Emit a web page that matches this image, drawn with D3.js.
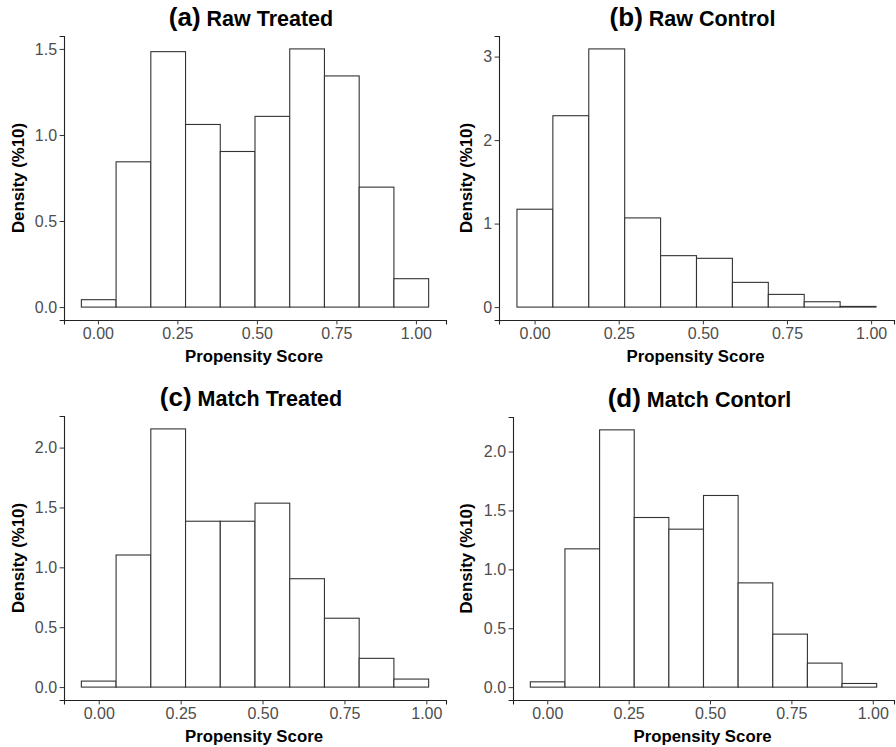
<!DOCTYPE html>
<html>
<head>
<meta charset="utf-8">
<script src="https://cdn.jsdelivr.net/npm/d3@7"></script>
<style>
  body { margin: 0; background: #fff; }
  svg { display: block; font-family: "Liberation Sans", Arial, sans-serif; }
  .tick text { fill: #4d4d4d; font-size: 16px; }
  .tick line { stroke: #333; }
  .domain { stroke: #222; }
</style>
</head>
<body>
<div id="chart"></div>
<script>
// panel labels
var tags = ["(a)", "(b)", "(c)", "(d)"];
var names = ["Raw Treated", "Raw Control", "Match Treated", "Match Contorl"];

// density per bin (10 bins)
var rawTreated   = [0.043, 0.844, 1.484, 1.061, 0.904, 1.108, 1.500, 1.343, 0.697, 0.165];
var rawControl   = [1.172, 2.292, 3.092, 1.068, 0.616, 0.584, 0.296, 0.152, 0.064, 0.008];
var matchTreated = [0.050, 1.103, 2.156, 1.385, 1.385, 1.536, 0.905, 0.575, 0.240, 0.067];
var matchControl = [0.045, 1.174, 2.184, 1.440, 1.341, 1.627, 0.885, 0.450, 0.204, 0.031];

// left edge of first bin and bin width for each panel
var binStarts = [-0.052, -0.0524, -0.053, -0.052];
var binWidths = [0.1092, 0.1067, 0.106, 0.1064];

var xTicks = [0, 0.25, 0.5, 0.75, 1];
var yTicksA = [0, 0.5, 1, 1.5];
var yTicksB = [0, 1, 2, 3];
var yTicksCD = [0, 0.5, 1, 1.5, 2];

var series = [rawTreated, rawControl, matchTreated, matchControl];
var yTicks = [yTicksA, yTicksB, yTicksCD, yTicksCD];
var yFormats = [".1f", "d", ".1f", ".1f"];

// plot area of each panel (page pixels)
var boxes = [
    { ox: 0,   left: 64,  right: 446, top: 36,  bottom: 320 },
    { ox: 448, left: 499, right: 894, top: 36,  bottom: 320 },
    { ox: 0,   left: 64,  right: 446, top: 416, bottom: 700 },
    { ox: 448, left: 513, right: 894, top: 417, bottom: 700 }
];

var width = 896, height = 747;

var svg = d3.select("#chart").append("svg")
    .attr("width", width)
    .attr("height", height);

series.forEach(function(vals, i) {
    var b = boxes[i];
    var bins = vals.map(function(v, j) {
        return { x0: binStarts[i] + j * binWidths[i], x1: binStarts[i] + (j + 1) * binWidths[i], y: v };
    });

    // ggplot style 5% expansion
    var lo = bins[0].x0, hi = bins[bins.length - 1].x1;
    var pad = (hi - lo) * 0.05;
    var x = d3.scaleLinear().domain([lo - pad, hi + pad]).range([b.left, b.right]);
    var ymax = d3.max(vals);
    var y = d3.scaleLinear().domain([-ymax * 0.05, ymax * 1.05]).range([b.bottom, b.top]);

    var g = svg.append("g");

    g.selectAll("rect")
        .data(bins)
        .enter().append("rect")
            .attr("x", function(d) { return x(d.x0); })
            .attr("width", function(d) { return x(d.x1) - x(d.x0); })
            .attr("y", function(d) { return y(d.y); })
            .attr("height", function(d) { return y(0) - y(d.y); })
            .attr("fill", "#fff")
            .attr("stroke", "#333")
            .attr("stroke-width", 1.1);

    g.append("g")
        .attr("transform", "translate(0," + b.bottom + ")")
        .call(d3.axisBottom(x).tickValues(xTicks).tickFormat(d3.format(".2f"))
            .tickSizeOuter(0).tickSize(4.4).tickPadding(3));

    g.append("g")
        .attr("transform", "translate(" + b.left + ",0)")
        .call(d3.axisLeft(y).tickValues(yTicks[i]).tickFormat(d3.format(yFormats[i]))
            .tickSizeOuter(0).tickSize(4.4).tickPadding(2.5));

    g.selectAll(".domain").attr("stroke-width", 1.1);

    // title
    var t = g.append("text")
        .attr("x", (b.left + b.right) / 2 - 4)
        .attr("y", b.top - 10.3)
        .attr("text-anchor", "middle")
        .attr("font-weight", "bold")
        .attr("fill", "#000");
    t.append("tspan").attr("font-size", "26px").text(tags[i]);
    t.append("tspan").attr("font-size", "21.5px").text(" " + names[i]);

    // axis titles
    g.append("text")
        .attr("x", (b.left + b.right) / 2 - 1)
        .attr("y", b.bottom + 42)
        .attr("text-anchor", "middle")
        .attr("font-weight", "bold")
        .attr("font-size", "16.8px")
        .text("Propensity Score");

    g.append("text")
        .attr("transform", "translate(" + (b.ox + 24) + "," + ((b.top + b.bottom) / 2) + ") rotate(-90)")
        .attr("text-anchor", "middle")
        .attr("font-weight", "bold")
        .attr("font-size", "16.8px")
        .text("Density (%10)");
});
</script>
</body>
</html>
